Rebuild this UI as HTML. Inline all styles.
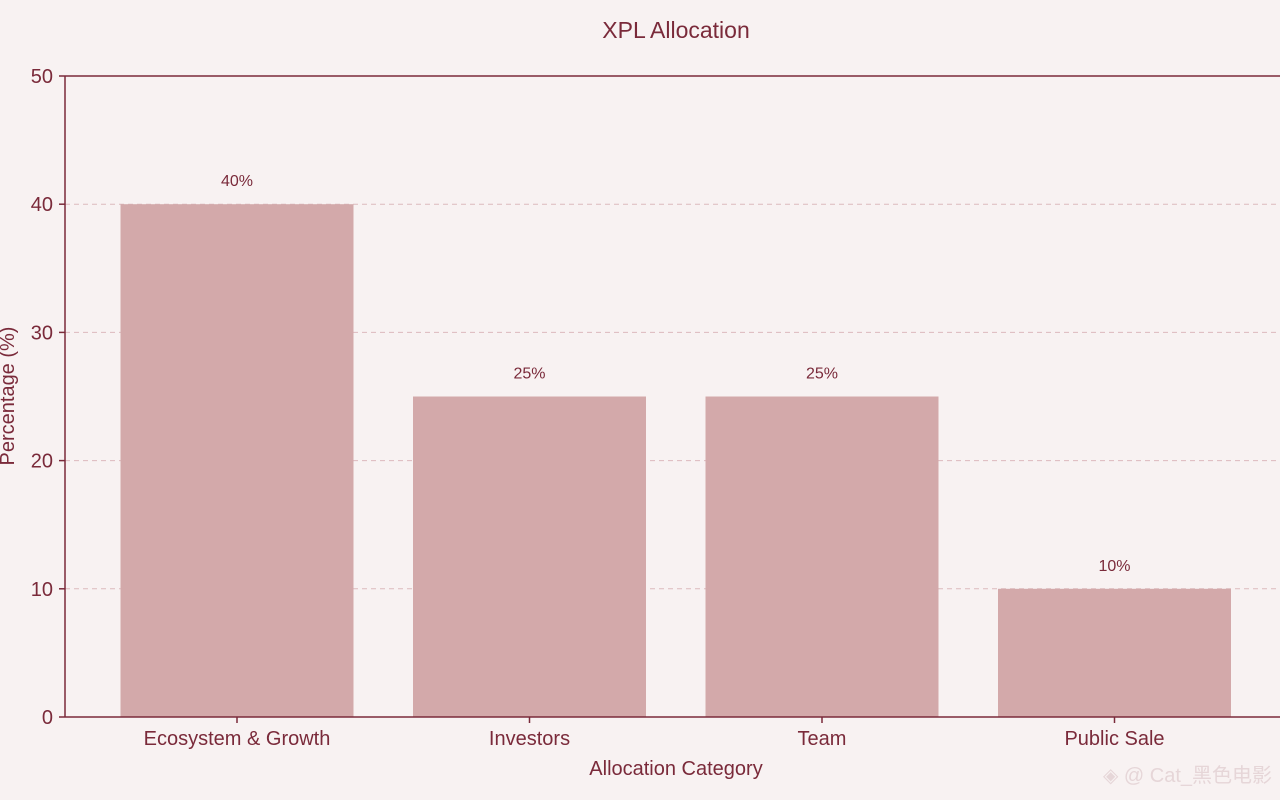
<!DOCTYPE html>
<html><head><meta charset="utf-8"><style>
html,body{margin:0;padding:0;background:#f8f2f2;}
svg{display:block;font-family:"Liberation Sans","Noto Sans CJK SC",sans-serif;}
</style></head><body>
<svg id="chart" width="1280" height="800" viewBox="0 0 1280 800">
<rect width="1280" height="800" fill="#f8f2f2"/>
<text x="676" y="38" text-anchor="middle" font-size="23" fill="#7a2a3a">XPL Allocation</text>
<g id="grid"></g>
<g id="bars"></g>
<g id="axes"></g>
<text transform="translate(14,396) rotate(-90)" text-anchor="middle" font-size="20" fill="#7a2a3a">Percentage (%)</text>
<text x="676" y="775" text-anchor="middle" font-size="20" fill="#7a2a3a">Allocation Category</text>
<text x="1272" y="782" text-anchor="end" font-size="20" fill="#e6d6d8">◈ @ Cat_黑色电影</text>
</svg>
<script>
const categories=["Ecosystem & Growth","Investors","Team","Public Sale"];
const values=[40,25,25,10];
const valueLabels=["40%","25%","25%","10%"];
const yTicks=[0,10,20,30,40,50];
const NS="http://www.w3.org/2000/svg";
const x0=65,x1=1280,yTop=76,yBot=717,yMax=50;
const y=v=>yBot-(v/yMax)*(yBot-yTop);
const step=292.5,firstCenter=237,bw=233;
const xc=i=>firstCenter+i*step;
function mk(tag,attrs,parent){const e=document.createElementNS(NS,tag);for(const k in attrs)e.setAttribute(k,attrs[k]);parent.appendChild(e);return e;}
const grid=document.getElementById('grid'),bars=document.getElementById('bars'),axes=document.getElementById('axes');
yTicks.forEach(t=>{
  if(t>0&&t<yMax){const l=mk('line',{x1:x0,x2:x1,y1:y(t),y2:y(t),stroke:'#dcb9bd','stroke-dasharray':'5,4','stroke-width':1},grid);
  
  }
  const tk=mk('line',{x1:x0-6,x2:x0,y1:y(t),y2:y(t),stroke:'#7a2a3a','stroke-width':1.5},axes);
  
  
  const tx=mk('text',{x:x0-12,y:y(t)+7,'text-anchor':'end','font-size':20,fill:'#7a2a3a'},axes);
  tx.textContent=t;
  
  
});
categories.forEach((c,i)=>{
  const r=mk('rect',{x:xc(i)-bw/2,y:y(values[i]),width:bw,height:yBot-y(values[i]),fill:'#d3a9aa'},bars);
  
  
  const vl=mk('text',{x:xc(i),y:y(values[i])-18,'text-anchor':'middle','font-size':16,fill:'#7a2a3a'},bars);
  vl.textContent=valueLabels[i];
  
  
  const tk=mk('line',{x1:xc(i),x2:xc(i),y1:yBot,y2:yBot+6,stroke:'#7a2a3a','stroke-width':1.5},axes);
  
  
  const cl=mk('text',{x:xc(i),y:yBot+28,'text-anchor':'middle','font-size':20,fill:'#7a2a3a'},axes);
  cl.textContent=c;
  
  
});
[[x0,yTop,x1,yTop],[x0,yTop,x0,yBot],[x0,yBot,x1,yBot]].forEach((a,i)=>{
  const l=mk('line',{x1:a[0],y1:a[1],x2:a[2],y2:a[3],stroke:'#7a2a3a','stroke-width':1.5},axes);
  
  
});
</script>
</body></html>
